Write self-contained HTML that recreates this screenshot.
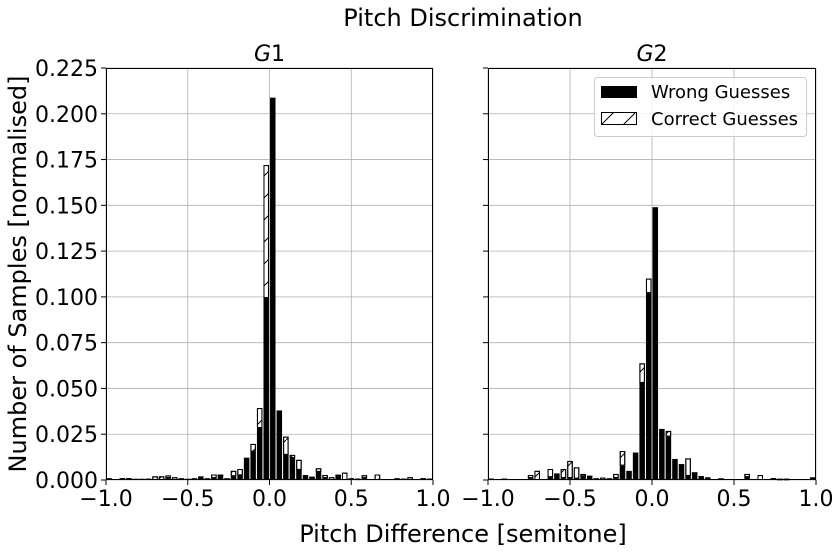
<!DOCTYPE html>
<html><head><meta charset="utf-8"><style>
html,body{margin:0;padding:0;background:#fff;}
svg text{font-family:"DejaVu Sans","Liberation Sans",sans-serif;fill:#000;}
</style></head><body>
<svg id="chart" width="840" height="552" xmlns="http://www.w3.org/2000/svg">
<defs>
<pattern id="hatch" patternUnits="userSpaceOnUse" width="22" height="22">
<path d="M-2,24 L24,-2" stroke="#000" stroke-width="1"/>
</pattern>
</defs>
<rect width="840" height="552" fill="#fff"/>
<text x="463" y="26" font-size="24" text-anchor="middle">Pitch Discrimination</text>
<text x="463" y="542" font-size="24" text-anchor="middle">Pitch Difference [semitone]</text>
<text transform="translate(26,274) rotate(-90)" font-size="24" text-anchor="middle">Number of Samples [normalised]</text>
<g id="p1"></g>
<g id="p2"></g>
<g>
<rect x="594.5" y="77.5" width="212" height="59" rx="3" fill="#fff" fill-opacity="0.8" stroke="#ccc"/>
<rect x="601" y="86" width="36" height="12" fill="#000"/>
<text x="651" y="98" font-size="18">Wrong Guesses</text>
<rect x="601.5" y="112.5" width="35" height="12" fill="#fff" stroke="#000"/>
<rect x="601.5" y="112.5" width="35" height="12" fill="url(#hatch)" stroke="#000"/>
<text x="651" y="125" font-size="18">Correct Guesses</text>
</g>
</svg>
<script>
const binEdgesStart = -1;
const binWidth = 0.04;
const xTicks = [-1, -0.5, 0, 0.5, 1];
const xTickLabels = ["\u22121.0", "\u22120.5", "0.0", "0.5", "1.0"];
const yTicks = [0, 0.025, 0.05, 0.075, 0.1, 0.125, 0.15, 0.175, 0.2, 0.225];
const yTickLabels = ["0.000","0.025","0.050","0.075","0.100","0.125","0.150","0.175","0.200","0.225"];
const g1Wrong = [0.001,0,0,0,0.0007,0.0007,0.0008,0,0,0.001,0,0.001,0.0007,0.001,0.002,0.001,0.001,0.002,0.001,0.002,0.0025,0.0122,0.0155,0.0284,0.0994,0.2088,0.038,0.0137,0.012,0.0055,0.0027,0.0008,0.0044,0.001,0,0.002,0,0.001,0,0.001,0.0005,0,0.0005,0.0005,0.001,0.0008,0,0.0005,0,0.0008];
const g1Correct = [0,0,0.001,0.001,0,0,0,0.002,0.002,0.0015,0.0015,0,0,0,0,0,0.002,0.001,0,0.003,0.0035,0,0.0042,0.0109,0.0726,0,0,0.01,0.0017,0.0055,0,0.001,0.002,0.0017,0.0015,0.0009,0.004,0,0.0008,0.0016,0,0.003,0,0,0,0,0.0015,0,0.001,0];
const g2Wrong = [0.0008,0,0.0008,0,0,0.0005,0.001,0,0,0.0015,0.0036,0.001,0.001,0.0007,0.002,0.0024,0.001,0,0.001,0.001,0.0078,0.005,0.015,0.053,0.102,0.149,0.0279,0.0237,0.0115,0.0087,0.0022,0.003,0.0022,0.0015,0.0005,0,0.0005,0.0005,0,0.0015,0.0005,0,0,0,0.0004,0.0004,0,0,0,0.0015];
const g2Correct = [0,0,0,0,0,0,0.0017,0.005,0,0.0045,0,0.005,0.0094,0.0062,0.0013,0,0,0.0013,0,0.0023,0.008,0,0,0.0107,0.008,0,0,0.0031,0,0,0.0096,0.0012,0,0,0,0.0009,0,0,0,0.0018,0,0.0027,0,0.001,0.0003,0.0003,0,0,0,0];
const NS="http://www.w3.org/2000/svg";
const Y0=480, Y1=68;
function yScale(v){return Y0-(v/0.225)*(Y0-Y1);}
function mk(tag,attrs,parent){const e=document.createElementNS(NS,tag);for(const k in attrs)e.setAttribute(k,attrs[k]);parent.appendChild(e);return e;}
function drawPanel(gid,x0,x1,wrong,correct,title,showY,idx){
  const g=document.getElementById(gid);
  const xs=v=>x0+(v+1)/2*(x1-x0);
  xTicks.forEach((t,i)=>{const l=mk('line',{x1:xs(t),x2:xs(t),y1:Y1,y2:Y0,stroke:'#b0b0b0','stroke-width':0.8},g);
    
    });
  yTicks.forEach((t,i)=>{const l=mk('line',{x1:x0,x2:x1,y1:yScale(t),y2:yScale(t),stroke:'#b0b0b0','stroke-width':0.8},g);
    
    });
  const bw=(x1-x0)/wrong.length;
  wrong.forEach((w,i)=>{
    const c=correct[i];
    const lx=xs(binEdgesStart+binWidth*i)+bw*0.08, wd=bw*0.84;
    if(w>0){const r=mk('rect',{x:lx,y:yScale(w),width:wd,height:Y0-yScale(w),fill:'#000'},g);
      
      }
    if(c>0){const yt=yScale(w+c), yb=yScale(w);
      mk('rect',{x:lx+0.5,y:yt+0.5,width:wd-1,height:Math.max(yb-yt-1,0.5),fill:'#fff',stroke:'#000','stroke-width':1},g);
      const r=mk('rect',{x:lx+0.5,y:yt+0.5,width:wd-1,height:Math.max(yb-yt-1,0.5),fill:'url(#hatch)',stroke:'#000','stroke-width':1},g);
      
      }
  });
  const fr=mk('rect',{x:x0+0.5,y:Y1+0.5,width:x1-x0-1,height:Y0-Y1-1,fill:'none',stroke:'#000','stroke-width':1},g);
  
  
  xTicks.forEach((t,i)=>{mk('line',{x1:xs(t),x2:xs(t),y1:Y0,y2:Y0+5,stroke:'#000'},g);
    const tx=mk('text',{x:xs(t),y:Y0+26,'font-size':22,'text-anchor':'middle'},g);tx.textContent=xTickLabels[i];
    
    });
  yTicks.forEach((t,i)=>{mk('line',{x1:x0-5,x2:x0,y1:yScale(t),y2:yScale(t),stroke:'#000'},g);
    if(showY){const tx=mk('text',{x:x0-8,y:yScale(t)+8,'font-size':22,'text-anchor':'end'},g);tx.textContent=yTickLabels[i];
      
      }});
  const tt=mk('text',{x:(x0+x1)/2,y:Y1-7,'font-size':22,'text-anchor':'middle'},g);
  tt.innerHTML='<tspan font-style="italic">G</tspan>'+idx;
  
  
}
drawPanel('p1',106,433,g1Wrong,g1Correct,'G1',true,'1');
drawPanel('p2',488,816,g2Wrong,g2Correct,'G2',false,'2');
</script>
</body></html>
